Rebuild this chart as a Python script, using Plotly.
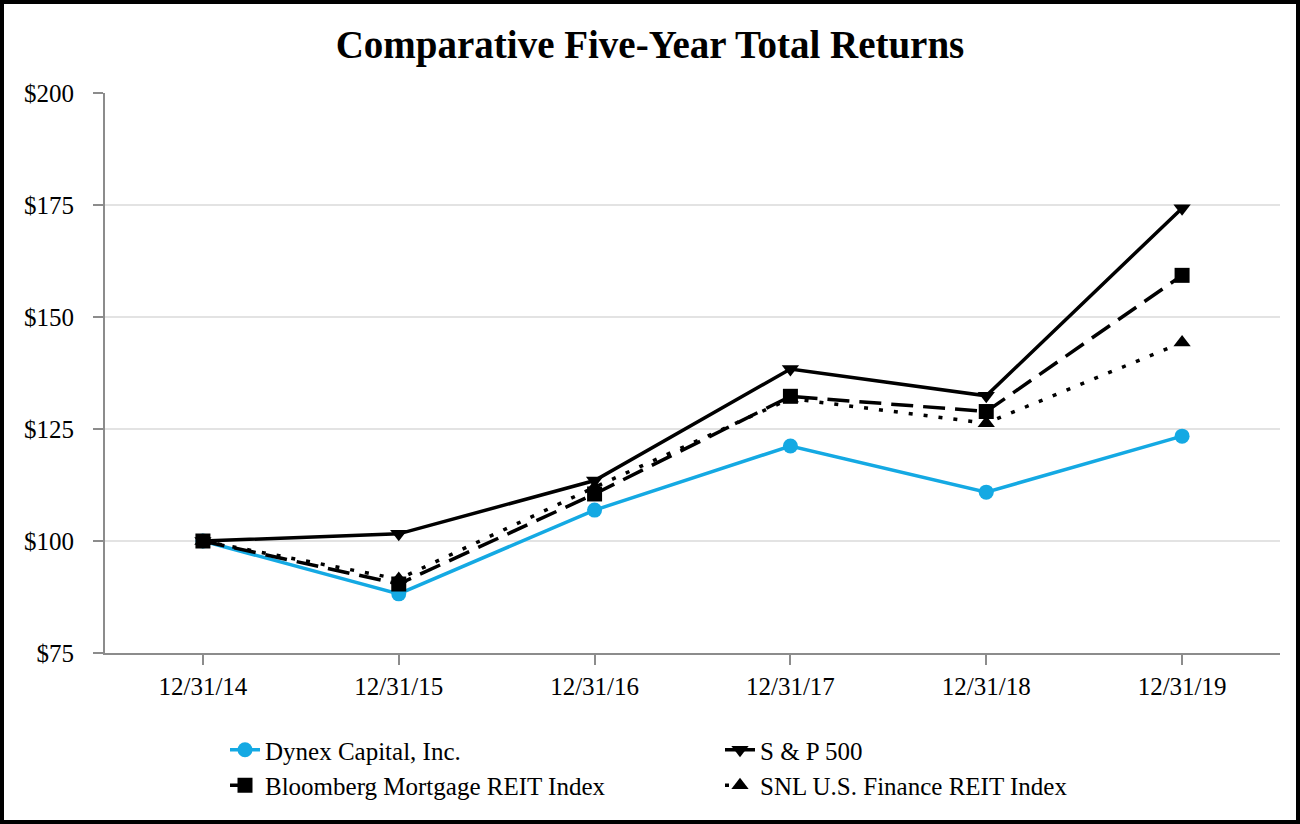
import plotly.graph_objects as go

dates = ["12/31/14", "12/31/15", "12/31/16", "12/31/17", "12/31/18", "12/31/19"]
dynex = [100.0, 88.2, 106.9, 121.2, 110.9, 123.4]
sp500 = [100.0, 101.6, 113.5, 138.4, 132.4, 174.3]
bloomberg = [100.0, 90.4, 110.5, 132.3, 128.9, 159.3]
snl = [100.0, 91.5, 112.0, 131.8, 126.3, 144.3]

FONT = "Liberation Serif"

fig = go.Figure()
fig.add_trace(go.Scatter(
    x=dates, y=dynex, name="Dynex Capital, Inc.", mode="lines+markers",
    line=dict(color="#14A9E3", width=3.5),
    marker=dict(symbol="circle", size=15, color="#14A9E3")))
fig.add_trace(go.Scatter(
    x=dates, y=sp500, name="S & P 500", mode="lines+markers",
    line=dict(color="black", width=3.5),
    marker=dict(symbol="triangle-down", size=15, color="black")))
fig.add_trace(go.Scatter(
    x=dates, y=bloomberg, name="Bloomberg Mortgage REIT Index", mode="lines+markers",
    line=dict(color="black", width=3.5, dash="22px,10px"),
    marker=dict(symbol="square", size=15, color="black")))
fig.add_trace(go.Scatter(
    x=dates, y=snl, name="SNL U.S. Finance REIT Index", mode="lines+markers",
    line=dict(color="black", width=3.5, dash="4px,11px"),
    marker=dict(symbol="triangle-up", size=15, color="black")))

fig.update_layout(
    width=1300, height=824,
    margin=dict(l=105, r=20, t=93, b=171),
    paper_bgcolor="white", plot_bgcolor="white",
    font=dict(family=FONT, size=25, color="black"),
    title=dict(text="<b>Comparative Five-Year Total Returns</b>",
               x=0.5, xref="container", xanchor="center",
               y=1 - 44 / 824, yref="container", yanchor="middle",
               font=dict(family=FONT, size=39, color="black")),
    showlegend=True,
    legend=dict(orientation="h", x=(225 - 105) / 1175, xanchor="left",
                y=(653 - 727) / 560, yanchor="top",
                entrywidth=450, entrywidthmode="pixels",
                font=dict(family=FONT, size=25, color="black"),
                traceorder="normal", bgcolor="rgba(0,0,0,0)"),
)
fig.update_xaxes(
    type="category", range=[-0.5, 5.5],
    showline=True, linecolor="#8C8C8C", linewidth=2,
    ticks="outside", ticklen=10, tickcolor="#8C8C8C", tickwidth=2,
    showgrid=False, zeroline=False,
    tickfont=dict(family=FONT, size=25, color="black"))
fig.update_yaxes(
    range=[75, 200], dtick=25, tick0=75, tickprefix="$",
    showline=True, linecolor="#8C8C8C", linewidth=2,
    ticks="outside", ticklen=10, tickcolor="#8C8C8C", tickwidth=2,
    showgrid=True, gridcolor="#E3E3E3", gridwidth=2, zeroline=False,
    ticklabelstandoff=14,
    tickfont=dict(family=FONT, size=25, color="black"))

# outer frame
fig.add_shape(type="rect", xref="paper", yref="paper",
              x0=(2 - 105) / 1175, x1=(1298 - 105) / 1175,
              y0=(653 - 822) / 560, y1=(653 - 2) / 560,
              line=dict(color="black", width=4), fillcolor="rgba(0,0,0,0)",
              layer="above")

fig.write_html("out.html", config={"displayModeBar": False},
               post_script="document.body.style.margin='0';document.body.style.overflow='hidden';")
